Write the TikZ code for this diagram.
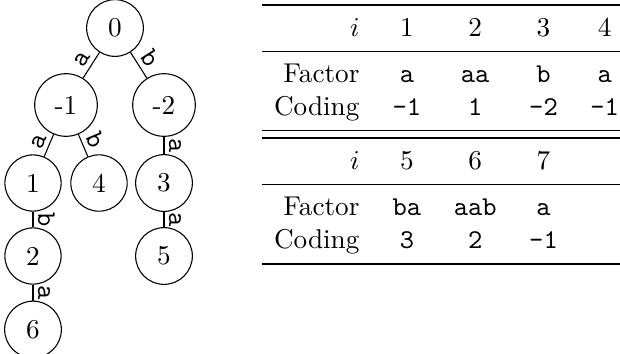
\documentclass[tikz,border=0pt]{standalone}
\begin{document}
\begin{tikzpicture}[x=0.3676pt,y=-0.3676pt,
  vtx/.style={draw, circle, inner sep=4.38pt, line width=0.4pt},
  lbl/.style={sloped, above, inner sep=1.6pt, font=\ttfamily},
  cellc/.style={anchor=base, inner sep=0pt},
  cellr/.style={anchor=base east, inner sep=0pt},
  heavyrule/.style={line width=0.8pt},
  lightrule/.style={line width=0.5pt}]
\useasboundingbox (0,0) rectangle (620,353);
% tree
\node[vtx] (n0)  at (115,28)  {0};
\node[vtx] (nm1) at (66,105)  {-1};
\node[vtx] (nm2) at (164,105) {-2};
\node[vtx] (n1)  at (33,183)  {1};
\node[vtx] (n4)  at (99,183)  {4};
\node[vtx] (n3)  at (164,183) {3};
\node[vtx] (n2)  at (33,256)  {2};
\node[vtx] (n5)  at (164,256) {5};
\node[vtx] (n6)  at (33,329.5) {6};
\draw (n0) -- node[lbl] {a} (nm1);
\draw (n0) -- node[lbl] {b} (nm2);
\draw (nm1) -- node[lbl] {a} (n1);
\draw (nm1) -- node[lbl] {b} (n4);
\draw (nm2) -- node[lbl] {a} (n3);
\draw (n1) -- node[lbl] {b} (n2);
\draw (n2) -- node[lbl] {a} (n6);
\draw (n3) -- node[lbl] {a} (n5);
% table rules
\draw[heavyrule] (262,5.1) -- (620,5.1);
\draw[lightrule] (262,51.8) -- (620,51.8);
\draw[lightrule] (262,130.7) -- (620,130.7);
\draw[heavyrule] (262,137.9) -- (620,137.9);
\draw[lightrule] (262,184.6) -- (620,184.6);
\draw[heavyrule] (262,264) -- (620,264);
% block 1
\node[cellr] (h1) at (360,36.6) {$i$};
\node[cellc] (h1a) at (406.9,36.6) {1};
\node[cellc] (h1b) at (475.2,36.6) {2};
\node[cellc] (h1c) at (543.5,36.6) {3};
\node[cellc] (h1d) at (604.7,36.6) {4};
\node[cellr] (f1) at (360,82.9) {Factor};
\node[cellc] (f1a) at (406.9,82.9) {\texttt{a}};
\node[cellc] (f1b) at (475.2,82.9) {\texttt{aa}};
\node[cellc] (f1c) at (543.5,82.9) {\texttt{b}};
\node[cellc] (f1d) at (604.7,82.9) {\texttt{a}};
\node[cellr] (c1) at (360,115.6) {Coding};
\node[cellc] (c1a) at (406.9,115.6) {\texttt{-1}};
\node[cellc] (c1b) at (475.2,115.6) {\texttt{1}};
\node[cellc] (c1c) at (543.5,115.6) {\texttt{-2}};
\node[cellc] (c1d) at (604.7,115.6) {\texttt{-1}};
% block 2
\node[cellr] (h2) at (360,169.5) {$i$};
\node[cellc] (h2a) at (406.9,169.5) {5};
\node[cellc] (h2b) at (475.2,169.5) {6};
\node[cellc] (h2c) at (543.5,169.5) {7};
\node[cellr] (f2) at (360,215.8) {Factor};
\node[cellc] (f2a) at (406.9,215.8) {\texttt{ba}};
\node[cellc] (f2b) at (475.2,215.8) {\texttt{aab}};
\node[cellc] (f2c) at (543.5,215.8) {\texttt{a}};
\node[cellr] (c2) at (360,248.4) {Coding};
\node[cellc] (c2a) at (406.9,248.4) {\texttt{3}};
\node[cellc] (c2b) at (475.2,248.4) {\texttt{2}};
\node[cellc] (c2c) at (543.5,248.4) {\texttt{-1}};
\end{tikzpicture}
\end{document}
